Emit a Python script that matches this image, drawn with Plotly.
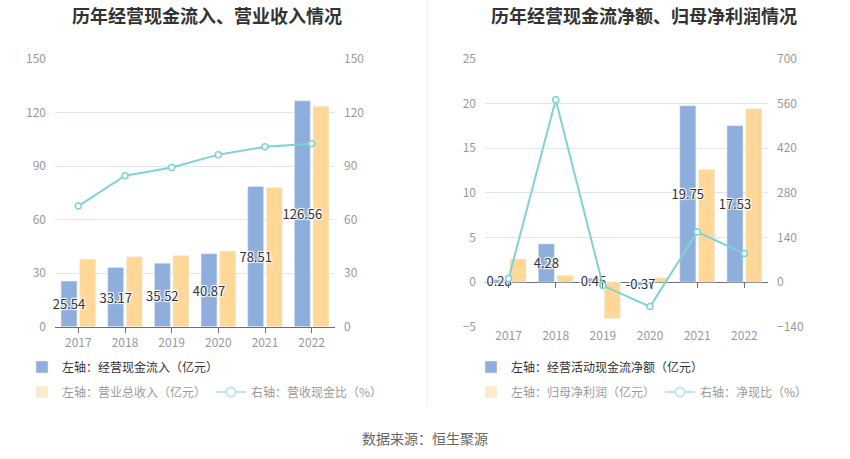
import plotly.graph_objects as go

years = ["2017", "2018", "2019", "2020", "2021", "2022"]

# Left chart
cash_inflow = [25.54, 33.17, 35.52, 40.87, 78.51, 126.56]   # 经营现金流入（亿元）
revenue = [37.8, 39.2, 39.8, 42.4, 77.9, 123.5]            # 营业总收入（亿元）
inflow_ratio = [67.6, 84.6, 89.2, 96.4, 100.8, 102.5]      # 营收现金比（%）

# Right chart
net_cash = [0.28, 4.28, 0.45, -0.37, 19.75, 17.53]         # 经营活动现金流净额（亿元）
net_profit = [2.58, 0.75, -4.08, 0.48, 12.60, 19.43]       # 归母净利润（亿元）
net_ratio = [10.9, 572.0, -11.0, -77.0, 157.0, 90.0]       # 净现比（%）

left_ticks = [0, 30, 60, 90, 120, 150]
right_ticks_a = [-5, 0, 5, 10, 15, 20, 25]
right_ticks_b = [-140, 0, 140, 280, 420, 560, 700]

BLUE = "#8eaedb"
YELLOW = "#ffd898"
CYAN = "#7fd3d6"
FONT = "Noto Sans CJK SC"
SHADOW = "1px 1px 1px #fff, -1px -1px 1px #fff, 1px -1px 1px #fff, -1px 1px 1px #fff"

fig = go.Figure()


def add_chart(xa, xline, ya, ya2, bar1, bar2, line, name1, name2, name3, lg1, lg2):
    fig.add_trace(go.Bar(x=years, y=bar2, xaxis=xa, yaxis=ya, marker_color=YELLOW,
                         offset=0.03, width=0.34, showlegend=False, name=name2,
                         hoverinfo="skip"))
    fig.add_trace(go.Bar(x=years, y=bar1, xaxis=xa, yaxis=ya, marker_color=BLUE,
                         offset=-0.37, width=0.34, name=name1, legend=lg1,
                         text=[f"{v:.2f}" for v in bar1], textposition="inside",
                         insidetextanchor="middle", textangle=0, constraintext="none",
                         textfont=dict(color="#333", size=13, family=FONT, shadow=SHADOW),
                         cliponaxis=False))
    fig.add_trace(go.Scatter(x=years, y=line, xaxis=xline, yaxis=ya2, mode="lines+markers",
                             line=dict(color=CYAN, width=2),
                             marker=dict(size=6, color="white", line=dict(color=CYAN, width=1.5)),
                             showlegend=False, name=name3, cliponaxis=False))
    # legend-only entries (faded, as in the reference)
    fig.add_trace(go.Bar(x=years, y=bar2, xaxis=xa, yaxis=ya, marker_color=YELLOW,
                         name=name2, legend=lg2, visible="legendonly"))
    fig.add_trace(go.Scatter(x=years, y=line, xaxis=xline, yaxis=ya2, mode="lines+markers",
                             line=dict(color=CYAN, width=2),
                             marker=dict(size=9, color="white", line=dict(color=CYAN, width=2)),
                             name=name3, legend=lg2, visible="legendonly"))


add_chart("x", "x", "y", "y2", cash_inflow, revenue, inflow_ratio,
          "左轴：经营现金流入（亿元）", "左轴：营业总收入（亿元）", "右轴：营收现金比（%）",
          "legend", "legend2")
add_chart("x2", "x3", "y3", "y4", net_cash, net_profit, net_ratio,
          "左轴：经营活动现金流净额（亿元）", "左轴：归母净利润（亿元）", "右轴：净现比（%）",
          "legend3", "legend4")

W, H = 850, 459
ytop, ybot = 59, 326.7
ydom = [1 - ybot / H, 1 - ytop / H]
zero_pos = ydom[0] + (ydom[1] - ydom[0]) * (0 - (-5)) / (25 - (-5))
tickfont = dict(color="#999", size=12, family=FONT)

xcommon = dict(type="category", range=[-0.5, 5.5], tickfont=dict(color="#999", size=12, family=FONT),
               fixedrange=True, automargin=False)
ycommon = dict(tickfont=tickfont, ticklabelstandoff=8, automargin=False, showline=False)
lgcommon = dict(xanchor="left", yanchor="middle", orientation="h",
                font=dict(size=12, color="#333", family=FONT), bgcolor="rgba(0,0,0,0)")
fig.update_layout(
    width=W, height=H,
    margin=dict(l=0, r=0, t=0, b=0, pad=0, autoexpand=False),
    paper_bgcolor="white", plot_bgcolor="white",
    barmode="overlay",
    font=dict(family=FONT, color="#333"),
    uniformtext=dict(minsize=13, mode="show"),
    xaxis=dict(domain=[55 / W, 335 / W], anchor="y", showline=True, linecolor="#6e7079",
               ticks="outside", ticklen=5, tickcolor="#6e7079", **xcommon),
    yaxis=dict(domain=ydom, anchor="x", range=[0, 150], tickvals=left_ticks,
               gridcolor="#e0e6f1", zeroline=False, **ycommon),
    yaxis2=dict(overlaying="y", side="right", anchor="x", range=[0, 150], tickvals=left_ticks,
                showgrid=False, zeroline=False, **ycommon),
    xaxis2=dict(domain=[485 / W, 768 / W], anchor="y3", showline=False, ticks="", **xcommon),
    xaxis3=dict(domain=[485 / W, 768 / W], overlaying="x2", matches="x2", anchor="free",
                position=zero_pos, showline=False, showgrid=False, showticklabels=False,
                ticks="outside", ticklen=5, tickcolor="#6e7079", **xcommon),
    yaxis3=dict(domain=ydom, anchor="x2", range=[-5, 25], tickvals=right_ticks_a,
                gridcolor="#e0e6f1", zeroline=True, zerolinecolor="#6e7079", zerolinewidth=1,
                **ycommon),
    yaxis4=dict(overlaying="y3", side="right", anchor="x2", range=[-140, 700],
                tickvals=right_ticks_b, showgrid=False, zeroline=False, **ycommon),
    legend=dict(x=22 / W, y=1 - 367 / H, **lgcommon),
    legend2=dict(x=22 / W, y=1 - 392 / H, **lgcommon),
    legend3=dict(x=471 / W, y=1 - 367 / H, **lgcommon),
    legend4=dict(x=471 / W, y=1 - 392 / H, **lgcommon),
    showlegend=True,
)

fig.add_annotation(text="历年经营现金流入、营业收入情况", x=207 / W, y=1 - 15 / H, xref="paper",
                   yref="paper", showarrow=False, xanchor="center", yanchor="middle",
                   font=dict(size=18, color="#333", family=FONT, weight="bold"))
fig.add_annotation(text="历年经营现金流净额、归母净利润情况", x=644 / W, y=1 - 15 / H, xref="paper",
                   yref="paper", showarrow=False, xanchor="center", yanchor="middle",
                   font=dict(size=18, color="#333", family=FONT, weight="bold"))
fig.add_annotation(text="数据来源：恒生聚源", x=425 / W, y=1 - 438 / H, xref="paper",
                   yref="paper", showarrow=False, xanchor="center", yanchor="middle",
                   font=dict(size=14, color="#666", family=FONT))
fig.add_shape(type="line", xref="paper", yref="paper", x0=427 / W, x1=427 / W,
              y0=1 - 407 / H, y1=1, line=dict(color="#eeeeee", width=1))

fig.write_html("out.html", config={"displayModeBar": False},
               post_script="document.body.style.margin='0px';")
